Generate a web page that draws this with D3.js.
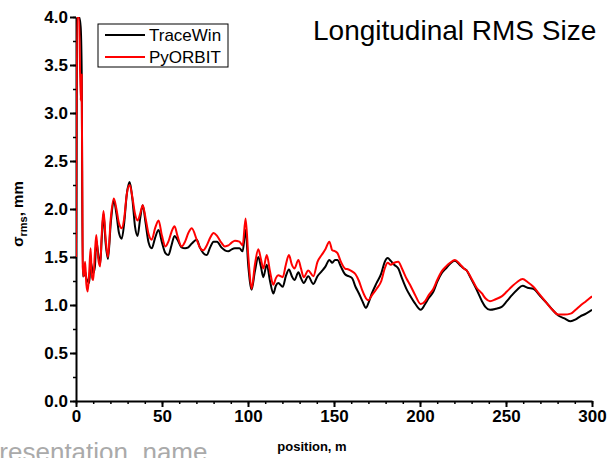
<!DOCTYPE html>
<html>
<head>
<meta charset="utf-8">
<script src="https://cdn.jsdelivr.net/npm/d3@7"></script>
<style>
  body { margin: 0; background: #fff; }
  svg { display: block; font-family: Arial, "Liberation Sans", sans-serif; }
  .tick text { font-weight: bold; }
</style>
</head>
<body>
<svg id="chart" width="608" height="458"></svg>
<script>
// position along the linac, m
const positions = [0, 0.6, 1.8, 2.7, 3.3, 3.9, 4.5, 5.3, 6.0, 6.8, 7.7, 8.5, 9.2, 10.0, 11.0, 11.8, 12.8, 14.0, 15.0, 16.0,
  17.2, 18.6, 20.2, 22.0, 23.5, 25.0, 26.6, 28.0, 29.5, 31.2, 32.8, 34.3, 35.8, 37.3, 38.8, 40.5, 42.2, 44.0, 46.0, 48.0,
  50.0, 52.0, 53.7, 55.5, 57.3, 59.0, 61.4, 63.4, 65.3, 67.3, 70.2, 72.0, 74.0, 76.0, 78.0, 80.0, 82.0, 84.5, 86.6, 88.6,
  90.5, 92.4, 95.0, 96.9, 98.6, 100.2, 102.1, 104.0, 106.0, 107.5, 108.9, 110.9, 112.8, 114.7, 116.2, 117.6, 120.2, 122.0, 123.8, 125.5,
  127.0, 129.3, 130.8, 132.4, 135.0, 138.0, 140.4, 142.8, 145.0, 147.3, 149.0, 150.6, 152.0, 154.0, 156.4, 158.5, 160.5, 162.5, 164.5, 166.5,
  168.6, 170.0, 172.0, 174.8, 177.5, 179.5, 181.2, 183.0, 185.0, 187.4, 189.5, 192.3, 194.2, 197.0, 200.4, 203.0, 205.0, 207.8, 210.0, 212.6,
  215.0, 217.5, 220.3, 223.0, 225.5, 227.1, 229.5, 232.9, 236.0, 238.0, 240.7, 244.0, 247.5, 250.5, 253.3, 256.5, 259.7, 262.5, 265.9, 270.0,
  273.7, 277.0, 280.4, 284.0, 287.6, 290.5, 293.0, 296.5, 300.0];

// longitudinal rms size, mm
const traceWin = [1.50, 4.00, 4.00, 3.90, 3.45, 1.30, 1.30, 1.35, 1.28, 1.25, 1.23, 1.45, 1.40, 1.33, 1.40, 1.67, 1.55, 1.42, 1.70, 1.95,
  1.65, 1.48, 1.85, 2.09, 1.95, 1.75, 1.69, 1.85, 2.15, 2.28, 2.10, 1.82, 1.72, 1.90, 2.04, 1.85, 1.65, 1.59, 1.70, 1.78,
  1.65, 1.54, 1.52, 1.62, 1.72, 1.68, 1.60, 1.59, 1.60, 1.64, 1.68, 1.60, 1.54, 1.52, 1.60, 1.66, 1.66, 1.60, 1.57, 1.56,
  1.58, 1.59, 1.59, 1.56, 1.78, 1.40, 1.16, 1.35, 1.50, 1.40, 1.29, 1.42, 1.25, 1.12, 1.20, 1.23, 1.19, 1.30, 1.37, 1.30,
  1.26, 1.34, 1.28, 1.23, 1.30, 1.22, 1.30, 1.35, 1.40, 1.47, 1.44, 1.47, 1.47, 1.40, 1.32, 1.30, 1.28, 1.19, 1.12, 1.04,
  0.97, 1.02, 1.12, 1.23, 1.33, 1.45, 1.49, 1.46, 1.42, 1.38, 1.28, 1.16, 1.10, 1.02, 0.95, 1.01, 1.07, 1.14, 1.24, 1.33,
  1.38, 1.43, 1.46, 1.42, 1.38, 1.36, 1.28, 1.16, 1.04, 0.98, 0.95, 0.96, 0.98, 1.04, 1.10, 1.16, 1.20, 1.18, 1.17, 1.09,
  1.02, 0.95, 0.89, 0.86, 0.83, 0.85, 0.88, 0.91, 0.95];

const pyOrbit = [1.50, 4.00, 4.00, 3.13, 3.40, 1.40, 1.30, 1.45, 1.22, 1.14, 1.35, 1.59, 1.30, 1.26, 1.55, 1.73, 1.50, 1.40, 1.75, 1.98,
  1.70, 1.50, 1.90, 2.11, 2.00, 1.85, 1.80, 1.90, 2.15, 2.25, 2.12, 1.95, 1.88, 1.95, 2.04, 1.90, 1.74, 1.68, 1.80, 1.88,
  1.72, 1.61, 1.66, 1.76, 1.82, 1.72, 1.61, 1.66, 1.75, 1.80, 1.68, 1.60, 1.57, 1.62, 1.70, 1.75, 1.72, 1.65, 1.61, 1.62,
  1.65, 1.67, 1.66, 1.62, 1.90, 1.50, 1.17, 1.42, 1.58, 1.48, 1.38, 1.52, 1.35, 1.21, 1.28, 1.31, 1.29, 1.42, 1.52, 1.42,
  1.38, 1.47, 1.38, 1.29, 1.36, 1.30, 1.45, 1.52, 1.58, 1.66, 1.57, 1.56, 1.54, 1.45, 1.38, 1.37, 1.35, 1.32, 1.25, 1.15,
  1.07, 1.05, 1.10, 1.17, 1.25, 1.38, 1.44, 1.42, 1.44, 1.45, 1.38, 1.27, 1.21, 1.11, 1.01, 1.04, 1.10, 1.17, 1.26, 1.35,
  1.40, 1.44, 1.47, 1.43, 1.38, 1.36, 1.29, 1.18, 1.12, 1.07, 1.04, 1.06, 1.09, 1.14, 1.19, 1.24, 1.27, 1.24, 1.19, 1.10,
  1.02, 0.95, 0.90, 0.90, 0.91, 0.95, 0.99, 1.04, 1.09];

const seriesNames = ["TraceWin", "PyORBIT"];
const seriesColors = ["#000000", "#ff0000"];
const xTicks = [0, 50, 100, 150, 200, 250, 300];
const yTicks = [0, 0.5, 1.0, 1.5, 2.0, 2.5, 3.0, 3.5, 4.0];

const svg = d3.select("#chart");
const m = { left: 76, right: 592, top: 17, bottom: 401 };

const x = d3.scaleLinear().domain([0, 300]).range([m.left, m.right]);
const y = d3.scaleLinear().domain([0, 4]).range([m.bottom, m.top]);

// minor ticks first, then major axes on top
svg.append("g").attr("transform", `translate(0,${m.bottom})`)
  .call(d3.axisBottom(x).tickValues(d3.range(0, 301, 10)).tickSize(3).tickFormat(""))
  .call(g => g.select(".domain").remove())
  .call(g => g.selectAll("line").attr("stroke-width", 1.5));
svg.append("g").attr("transform", `translate(${m.left},0)`)
  .call(d3.axisLeft(y).tickValues(d3.range(0, 4.01, 0.25)).tickSize(3).tickFormat(""))
  .call(g => g.select(".domain").remove())
  .call(g => g.selectAll("line").attr("stroke-width", 1.5));

const xAxis = svg.append("g").attr("transform", `translate(0,${m.bottom})`)
  .call(d3.axisBottom(x).tickValues(xTicks).tickSize(6).tickSizeOuter(0).tickPadding(3).tickFormat(d3.format("d")));
const yAxis = svg.append("g").attr("transform", `translate(${m.left},0)`)
  .call(d3.axisLeft(y).tickValues(yTicks).tickSize(6).tickSizeOuter(0).tickPadding(2).tickFormat(d3.format(".1f")));
[xAxis, yAxis].forEach(g => {
  g.selectAll("text").style("font-size", "17px").attr("fill", "#000");
  g.selectAll("line").attr("stroke-width", 2);
  g.select(".domain").attr("stroke-width", 2);
});

// series lines
svg.append("clipPath").attr("id", "clip").append("rect")
  .attr("x", m.left).attr("y", m.top).attr("width", m.right - m.left).attr("height", m.bottom - m.top);

const line = d3.line().x(d => x(d[0])).y(d => y(d[1])).curve(d3.curveMonotoneX);
[traceWin, pyOrbit].forEach((vals, i) => {
  svg.append("path")
    .datum(positions.map((p, k) => [p, vals[k]]))
    .attr("clip-path", "url(#clip)")
    .attr("fill", "none")
    .attr("stroke", seriesColors[i])
    .attr("stroke-width", 2)
    .attr("stroke-linejoin", "round")
    .attr("d", line);
});

// legend
const lg = svg.append("g").attr("transform", "translate(98,24)");
lg.append("rect").attr("width", 130).attr("height", 43).attr("fill", "#fff").attr("stroke", "#000").attr("stroke-width", 1);
seriesNames.forEach((name, i) => {
  const yy = 11 + i * 22;
  lg.append("line").attr("x1", 7).attr("x2", 47).attr("y1", yy).attr("y2", yy)
    .attr("stroke", seriesColors[i]).attr("stroke-width", 2);
  lg.append("text").attr("x", 51).attr("y", yy + 6).style("font-size", "17px").text(name);
});

// titles
svg.append("text").attr("x", 313).attr("y", 40).style("font-size", "28px").text("Longitudinal RMS Size");

svg.append("text").attr("x", 312).attr("y", 451).attr("text-anchor", "middle")
  .style("font-size", "13px").style("font-weight", "bold").text("position, m");

const yl = svg.append("text").attr("transform", "translate(23,214) rotate(-90)")
  .attr("text-anchor", "middle").style("font-size", "15px").style("font-weight", "bold");
yl.append("tspan").text("σ");
yl.append("tspan").attr("dy", 4).style("font-size", "11px").text("rms");
yl.append("tspan").attr("dy", -4).text(", mm");

// footer leftover from the slide template, cut off by the page edge
svg.append("text").attr("x", -18).attr("y", 461).style("font-size", "26px").attr("fill", "#aaaaaa").text("Presentation_name");
</script>
</body>
</html>
